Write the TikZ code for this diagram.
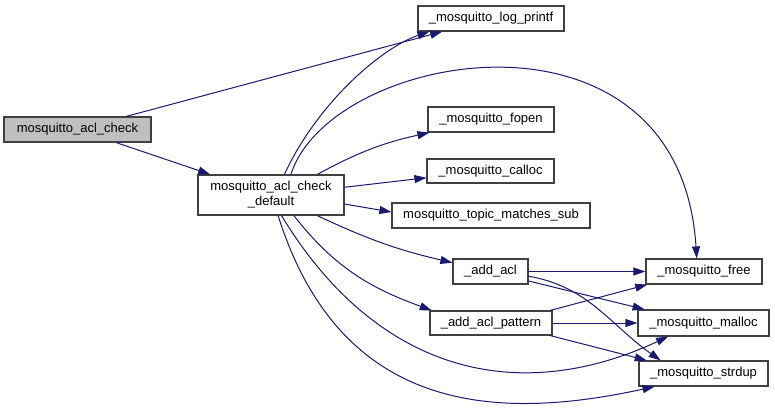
\documentclass[tikz,border=0pt]{standalone}
\usepackage{fontspec}
\setmainfont{Liberation Sans}
\usetikzlibrary{arrows.meta}
\definecolor{edgeblue}{HTML}{191970}
\definecolor{boxline}{HTML}{404040}
\definecolor{rootfill}{HTML}{BFBFBF}
\tikzset{
  fnbox/.style={draw=boxline, line width=1.2pt, fill=white, align=center, inner sep=0pt,
    minimum height=25pt, font=\fontsize{13pt}{15pt}\selectfont},
  rootbox/.style={fnbox, fill=rootfill},
  arr/.style={-{Triangle[length=12pt,width=8pt]}, line width=1pt, draw=edgeblue}
}
\begin{document}
\begin{tikzpicture}[x=1pt, y=1pt]
    \useasboundingbox (0,0) rectangle (775,-409);
    \node[rootbox, minimum width=147pt] (check) at (77.5,-129.5) {mosquitto\_acl\_check};
    \node[fnbox, minimum width=146pt, minimum height=40pt] (default) at (271,-195) {mosquitto\_acl\_check\\\_default};
    \node[fnbox, minimum width=146pt] (logprintf) at (491,-18.5) {\_mosquitto\_log\_printf};
    \node[fnbox, minimum width=126pt] (fopen) at (491,-119.5) {\_mosquitto\_fopen};
    \node[fnbox, minimum width=127pt, minimum height=24pt] (calloc) at (490.5,-171) {\_mosquitto\_calloc};
    \node[fnbox, minimum width=198pt] (topicsub) at (491,-215.5) {mosquitto\_topic\_matches\_sub};
    \node[fnbox, minimum width=75pt] (addacl) at (490.5,-271.5) {\_add\_acl};
    \node[fnbox, minimum width=122pt, minimum height=24pt] (addaclpat) at (491,-323) {\_add\_acl\_pattern};
    \node[fnbox, minimum width=116pt] (free) at (704,-271.5) {\_mosquitto\_free};
    \node[fnbox, minimum width=131pt, minimum height=26pt] (malloc) at (703.5,-323) {\_mosquitto\_malloc};
    \node[fnbox, minimum width=129pt] (strdup) at (703.5,-373.5) {\_mosquitto\_strdup};
    % calls of mosquitto_acl_check
    \draw[arr] (check) -- (logprintf);
    \draw[arr] (check) -- (default);
    % calls of mosquitto_acl_check_default
    \draw[arr] (default.57) .. controls +(35,75) and +(-45,-15) .. (logprintf.192);
    \draw[arr] (default.46) .. controls +(40,125) and +(-17,269) .. (free.119);
    \draw[arr] (default.24) to[bend left=8] (fopen.192);
    \draw[arr] (default.6) -- (calloc.186);
    \draw[arr] (default.353) -- (topicsub.178);
    \draw[arr] (default.-24) to[bend right=6] (addacl.167);
    \draw[arr] (default.-42) to[out=-52,in=160] (addaclpat.168);
    \draw[arr] (default.-63) .. controls +(94,-155) and +(-153,-71) .. (malloc.201);
    \draw[arr] (default.-71) .. controls +(63,-200) and +(-156,-34) .. (strdup.195);
    % calls of _add_acl and _add_acl_pattern
    \draw[arr] (addacl) -- (free);
    \draw[arr] (addacl.-14) -- (malloc.167);
    \draw[arr] (addacl.-7) to[out=-10,in=145] (strdup.163);
    \draw[arr] (addaclpat.12) -- (free.193);
    \draw[arr] (addaclpat) -- (malloc);
    \draw[arr] (addaclpat.-12) -- (strdup.167);
\end{tikzpicture}
\end{document}
